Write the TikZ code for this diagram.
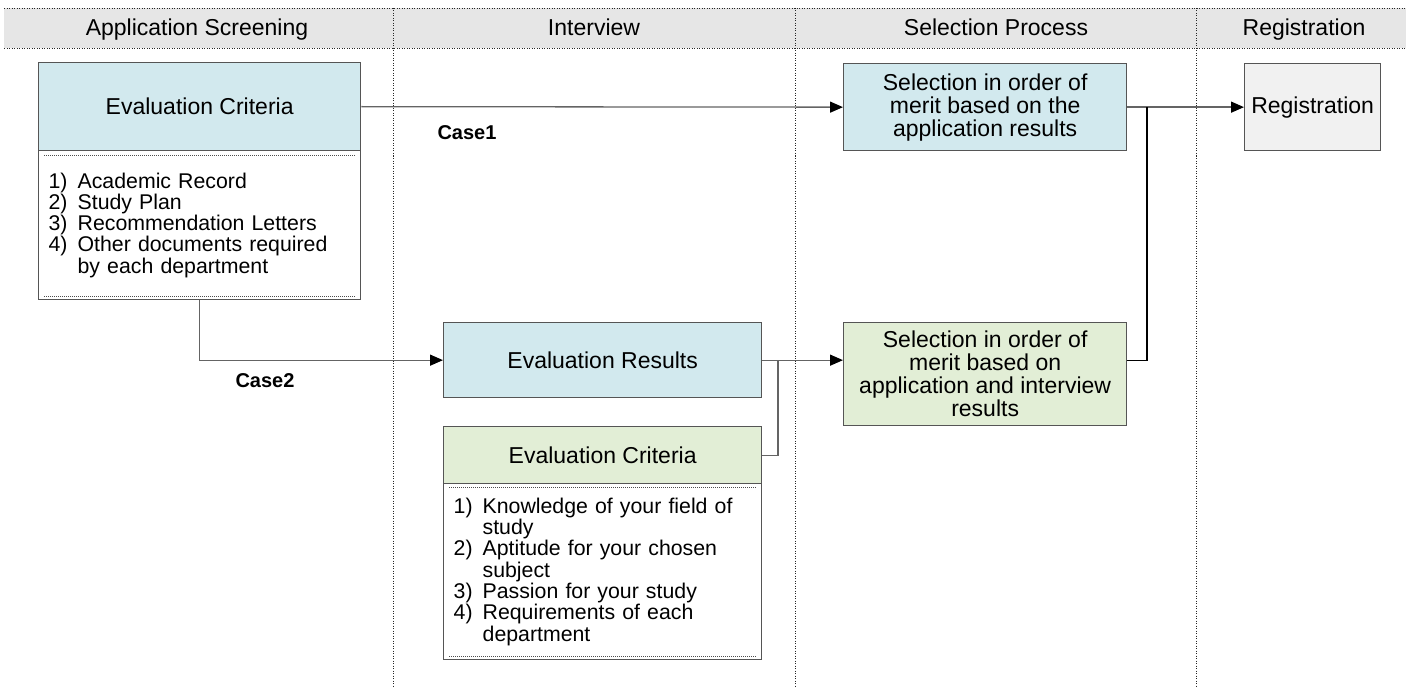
\documentclass[tikz,border=0pt]{standalone}
\usepackage{fontspec}
\setmainfont{Liberation Sans}
\usetikzlibrary{arrows.meta}

\definecolor{headgray}{RGB}{230,230,230}
\definecolor{boxblue}{RGB}{210,233,238}
\definecolor{boxgreen}{RGB}{226,238,214}
\definecolor{boxgray}{RGB}{241,241,241}
\definecolor{edgegray}{RGB}{85,85,85}
\definecolor{wiregray}{RGB}{100,100,100}

\newcommand\listfont{\fontsize{21.3}{21.3}\selectfont\spaceskip=0.38em\relax}
\newcommand\itemnum[1]{\makebox[29pt][l]{#1}}
\newcommand\itemcont{\hspace*{29pt}}

\tikzset{
  headtext/.style={font=\fontsize{23}{24}\selectfont, anchor=base},
  sepline/.style={draw=black!85, line width=0.8pt, dash pattern=on 1pt off 1.5pt},
  innerdot/.style={draw=black!70, line width=0.9pt, dash pattern=on 1pt off 1pt},
  box/.style={draw=edgegray, line width=1.3pt, anchor=north west, inner sep=0pt,
    align=center, font=\fontsize{23}{23}\selectfont},
  listbox/.style={box, fill=white, align=left, inner xsep=10pt, font=\listfont},
  wire/.style={draw=wiregray, line width=1.3pt},
  flow/.style={wire, -{Triangle[length=13pt,width=11pt,color=black]}},
  caselabel/.style={font=\fontsize{20}{22}\selectfont\bfseries},
}

\begin{document}
\begin{tikzpicture}[x=1pt,y=-1pt]

  % Page size of the reference (pixel units, y going down)
  \useasboundingbox (0,0) rectangle (1412,687);

  % Header band and phase names
  \fill[headgray] (4,8) rectangle (1406,48);
  \draw[sepline] (4,8) -- (1406,8);
  \draw[sepline] (4,48) -- (1406,48);
  \foreach \x/\lbl [count=\i] in {197/Application Screening,594/Interview,
      996/Selection Process,1304/Registration}
    \node[headtext] (head\i) at (\x,36) {\lbl};

  % Dotted column separators
  \foreach \x in {393,795,1196}
    \draw[sepline] (\x,8) -- (\x,687);

  % Application screening criteria
  \node[box, fill=boxblue, minimum width=322pt, minimum height=88pt] (ecAtitle) at (38,62) {Evaluation Criteria};
  \node[listbox, text width=302pt, minimum width=322pt, minimum height=149pt] (ecAbody) at (38,150)
    {\itemnum{1)}Academic Record\\
     \itemnum{2)}Study Plan\\
     \itemnum{3)}Recommendation Letters\\
     \itemnum{4)}Other documents required\\
     \itemcont by each department};
  \draw[innerdot] ([xshift=6pt,yshift=-5pt]ecAbody.north west) -- ([xshift=-6pt,yshift=-5pt]ecAbody.north east);
  \draw[innerdot] ([xshift=6pt,yshift=4pt]ecAbody.south west) -- ([xshift=-6pt,yshift=4pt]ecAbody.south east);

  % Selection and registration boxes
  \node[box, fill=boxblue, minimum width=283pt, minimum height=87pt] (sel1) at (843,63)
    {Selection in order of\\merit based on the\\application results};
  \node[box, fill=boxgray, minimum width=136pt, minimum height=87pt] (reg) at (1244,63) {Registration};
  \node[box, fill=boxgreen, minimum width=283pt, minimum height=103pt] (sel2) at (843,322)
    {Selection in order of\\merit based on\\application and interview\\results};

  % Interview boxes
  \node[box, fill=boxblue, minimum width=318pt, minimum height=75pt] (evres) at (443,322) {Evaluation Results};
  \node[box, fill=boxgreen, minimum width=318pt, minimum height=57pt] (ecBtitle) at (443,426) {Evaluation Criteria};
  \node[listbox, text width=298pt, minimum width=318pt, minimum height=176pt] (ecBbody) at (443,483)
    {\itemnum{1)}Knowledge of your field of\\
     \itemcont study\\
     \itemnum{2)}Aptitude for your chosen\\
     \itemcont subject\\
     \itemnum{3)}Passion for your study\\
     \itemnum{4)}Requirements of each\\
     \itemcont department};
  \draw[innerdot] ([xshift=6pt,yshift=-4pt]ecBbody.north west) -- ([xshift=-6pt,yshift=-4pt]ecBbody.north east);
  \draw[innerdot] ([xshift=6pt,yshift=4pt]ecBbody.south west) -- ([xshift=-6pt,yshift=4pt]ecBbody.south east);

  % Junction points of the joining lines
  \coordinate (jA) at (1147,0);
  \coordinate (jB) at (778,0);

  % Case 1: straight to selection
  \draw[flow] (ecAtitle.east) -- (sel1.west);
  \node[caselabel] (case1) at (467,133) {Case1};

  % Case 2: through the interview
  \draw[flow] (ecAbody.south) |- (evres.west);
  \node[caselabel] (case2) at (265,381) {Case2};
  \draw[flow] (evres.east) -- (evres.east -| sel2.west);
  \draw[wire] (ecBtitle.east) -| (evres.east -| jB);

  % Both selections lead to registration
  \draw[flow] (sel1.east) -- (reg.west);
  \draw[wire, draw=black] (sel2.east |- evres.east) -| (sel1.east -| jA);

\end{tikzpicture}
\end{document}
